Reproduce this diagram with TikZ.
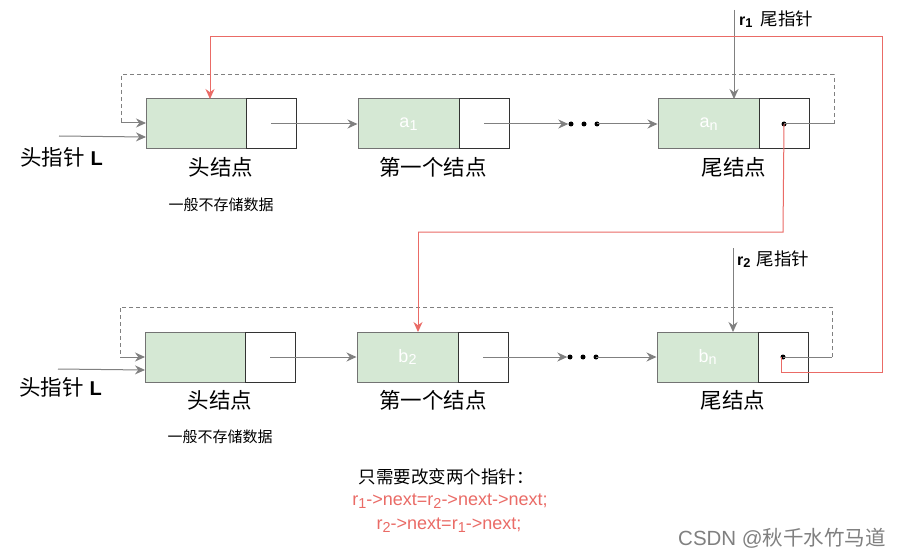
\documentclass[tikz,border=0pt]{standalone}
\usepackage{fontspec}
\setmainfont{Liberation Sans}
\newfontfamily\cjk{Noto Sans CJK SC}
\usetikzlibrary{arrows.meta}
\definecolor{gfill}{HTML}{D5E8D4}
\definecolor{lgray}{HTML}{808080}
\definecolor{redl}{HTML}{EA6B66}
\newcommand{\mysub}[1]{\raisebox{-0.3ex}{\scalebox{0.8}{#1}}}
\tikzset{
  gbox/.style={draw=lgray!90!black,fill=gfill,line width=1pt,minimum width=101pt,minimum height=50pt,inner sep=0pt,text=white,font=\fontsize{18}{20}\selectfont},
  wbox/.style={draw=black!80,fill=white,line width=1pt,minimum width=50pt,minimum height=50pt,inner sep=0pt},
  garr/.style={draw=lgray,line width=1pt,-{Stealth[length=10pt,width=9pt]}},
  gline/.style={draw=lgray,line width=1pt},
  dline/.style={draw=lgray,line width=1pt,dash pattern=on 4pt off 3pt},
  rarr/.style={draw=redl,line width=1pt,-{Stealth[length=10pt,width=9pt]}},
  rline/.style={draw=redl,line width=1pt},
  bigcjk/.style={font=\cjk\fontsize{21.5}{23}\selectfont,text=black},
  smallcjk/.style={font=\cjk\fontsize{15}{17}\selectfont,text=black},
  dotn/.style={circle,fill=black,inner sep=0pt,minimum size=5pt},
}
\begin{document}
\begin{tikzpicture}[x=1pt,y=-1pt]
\path[fill=white,use as bounding box] (0,0) rectangle (901,556);

% ---------- top row ----------
\node[gbox,minimum width=100pt] (hA) at (196,124) {};
\node[wbox] (hAw) at (271,124) {};
\node[gbox] (fA) at (408.5,124) {a\mysub{1}};
\node[wbox] (fAw) at (484,124) {};
\node[gbox] (tA) at (708.5,124) {a\mysub{n}};
\node[wbox] (tAw) at (784,124) {};

\node[dotn] (d1) at (571,124) {};
\node[dotn] (d2) at (584,124) {};
\node[dotn] (d3) at (597,124) {};
\node[dotn,minimum size=5pt] (tAdot) at (784,124) {};

\coordinate (hAwc) at (271,124);
\coordinate (fAwc) at (484,124);
\draw[garr] (hAwc) -- (fA.west);
\draw[garr] (fAwc) -- (d1.west);
\draw[garr] (d3.center) -- (tA.west);

\coordinate (tAr) at (834,124);
\coordinate (tAru) at (834,75);
\coordinate (tAlu) at (121,75);
\coordinate (tAld) at (121,123);
\coordinate (hAin) at (146,123);
\draw[gline] (tAdot.center) -- (tAr);
\draw[dline] (tAr) -- (tAru) -- (tAlu) -- (tAld);
\draw[garr] (tAld) -- (hAin);

\coordinate (LA) at (59,136);
\coordinate (LAin) at (146,137);
\draw[garr] (LA) -- (LAin);
\node[anchor=west,inner sep=0pt] (LAlab) at (20,157) {{\cjk\fontsize{21.5}{23}\selectfont 头指针}\hspace{6pt}\textbf{\fontsize{20}{22}\selectfont L}};

\node[bigcjk] (hAlab) at (221,167) {头结点};
\node[smallcjk] (hAsub) at (221,205) {一般不存储数据};
\node[bigcjk] (fAlab) at (433,167) {第一个结点};
\node[bigcjk] (tAlab) at (734,167) {尾结点};

\coordinate (r1s) at (734,10);
\coordinate (r1e) at (734,99);
\draw[garr] (r1s) -- (r1e);
\node[anchor=west,inner sep=0pt] (r1lab) at (739,19) {\textbf{\fontsize{16}{18}\selectfont r\mysub{1}}\hspace{8pt}{\cjk\fontsize{17.5}{19}\selectfont 尾指针}};

% ---------- bottom row ----------
\node[gbox,minimum width=100pt] (hB) at (195,357) {};
\node[wbox] (hBw) at (270,357) {};
\node[gbox] (fB) at (407.5,357) {b\mysub{2}};
\node[wbox] (fBw) at (483,357) {};
\node[gbox] (tB) at (707.5,357) {b\mysub{n}};
\node[wbox] (tBw) at (783,357) {};

\node[dotn] (e1) at (570,357) {};
\node[dotn] (e2) at (583,357) {};
\node[dotn] (e3) at (596,357) {};
\node[dotn,minimum size=5pt] (tBdot) at (783,357) {};

\coordinate (hBwc) at (270,357);
\coordinate (fBwc) at (483,357);
\draw[garr] (hBwc) -- (fB.west);
\draw[garr] (fBwc) -- (e1.west);
\draw[garr] (e3.center) -- (tB.west);

\coordinate (tBr) at (832,357);
\coordinate (tBru) at (832,307);
\coordinate (tBlu) at (120,307);
\coordinate (tBld) at (120,357);
\coordinate (hBin) at (145,357);
\draw[gline] (tBdot.center) -- (tBr);
\draw[dline] (tBr) -- (tBru) -- (tBlu) -- (tBld);
\draw[garr] (tBld) -- (hBin);

\coordinate (LB) at (58,369);
\coordinate (LBin) at (145,370);
\draw[garr] (LB) -- (LBin);
\node[anchor=west,inner sep=0pt] (LBlab) at (19,387) {{\cjk\fontsize{21.5}{23}\selectfont 头指针}\hspace{6pt}\textbf{\fontsize{20}{22}\selectfont L}};

\node[bigcjk] (hBlab) at (220,400) {头结点};
\node[smallcjk] (hBsub) at (220,437) {一般不存储数据};
\node[bigcjk] (fBlab) at (433,400) {第一个结点};
\node[bigcjk] (tBlab) at (733,400) {尾结点};

\coordinate (r2s) at (733,248);
\coordinate (r2e) at (733,332);
\draw[garr] (r2s) -- (r2e);
\node[anchor=west,inner sep=0pt] (r2lab) at (737,259) {\textbf{\fontsize{16}{18}\selectfont r\mysub{2}}\hspace{6pt}{\cjk\fontsize{17.5}{19}\selectfont 尾指针}};

% ---------- red connectors ----------
\coordinate (ra1) at (783,232);
\coordinate (ra2) at (418,232);
\coordinate (fBtop) at (418,332);
\draw[rline] (tAdot.center) -- (ra1) -- (ra2);
\draw[rarr] (ra2) -- (fBtop);

\coordinate (rb0) at (781,357);
\coordinate (rb1) at (781,372);
\coordinate (rb2) at (882,372);
\coordinate (rb3) at (882,37);
\coordinate (rb4) at (210,37);
\coordinate (hAtop) at (210,99);
\draw[rline] (rb0) -- (rb1) -- (rb2) -- (rb3) -- (rb4);
\draw[rarr] (rb4) -- (hAtop);

% ---------- notes ----------
\node[font=\cjk\fontsize{17.5}{19}\selectfont,text=black] (note) at (446,477) {只需要改变两个指针：};
\node[font=\fontsize{18}{20}\selectfont,text=redl] (code1) at (450,501) {r\mysub{1}->next=r\mysub{2}->next->next;};
\node[font=\fontsize{18}{20}\selectfont,text=redl] (code2) at (449,525) {r\mysub{2}->next=r\mysub{1}->next;};

\node[anchor=east,inner sep=0pt,text=black!50,font=\fontsize{20.5}{22}\selectfont] (wm) at (886,538) {CSDN @{\cjk 秋千水竹马道}};
\end{tikzpicture}
\end{document}
